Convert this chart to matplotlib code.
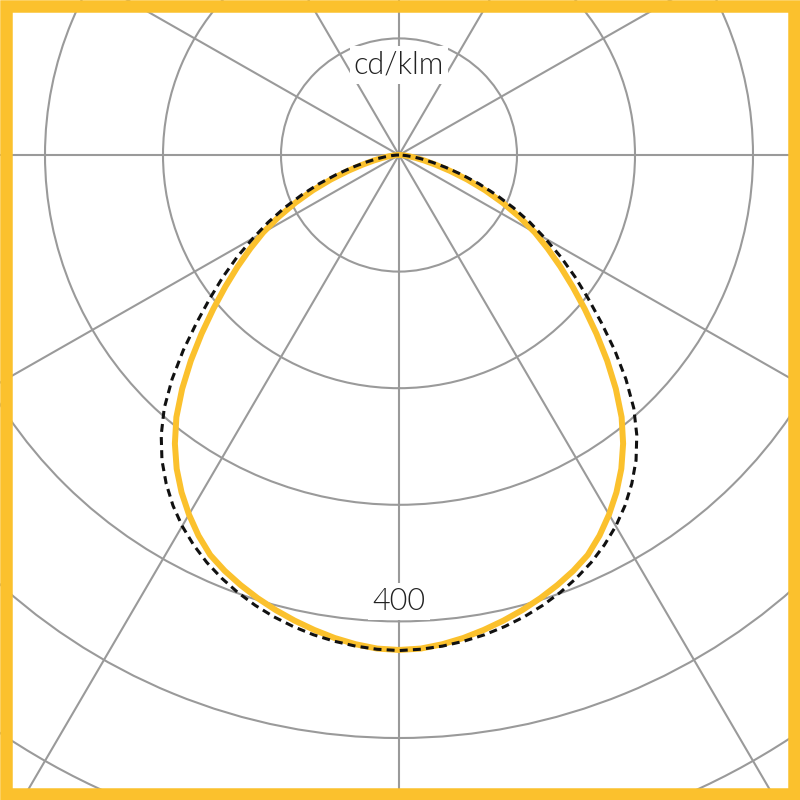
"""
Courbe photométrique polaire (cd/klm)
"""

import numpy as np
import matplotlib
matplotlib.use("Agg")
import matplotlib.pyplot as plt
from matplotlib.patches import Rectangle

# Angles gamma (degrés, 0 = vers le bas), pas de 2,5°
gamma = [0, 2.5, 5, 7.5, 10, 12.5, 15, 17.5, 20, 22.5, 25, 27.5, 30, 32.5, 35, 37.5,
         40, 42.5, 45, 47.5, 50, 52.5, 55, 57.5, 60, 62.5, 65, 67.5, 70, 72.5, 75,
         77.5, 80, 82.5, 85, 87.5, 90]

# Plan C0-C180 (trait jaune)
plan_c0_c180 = [424.5, 423.7, 421.2, 417.8, 413.6, 409.0, 404.0, 398.5, 392.5, 386.0,
                378.5, 368.0, 356.0, 343.0, 328.5, 312.0, 293.5, 272.0, 249.5, 227.0,
                205.5, 185.5, 167.0, 149.5, 133.0, 115.0, 97.0, 79.0, 61.5, 45.5,
                32.0, 22.0, 14.5, 9.0, 5.0, 2.0, 0.0]

# Plan C90-C270 (pointillés noirs)
plan_c90_c270 = [425.0, 424.3, 422.8, 420.6, 417.8, 414.2, 410.0, 405.0, 399.3, 392.8,
                 385.5, 377.0, 367.5, 356.5, 344.0, 330.0, 313.5, 294.5, 272.0, 248.0,
                 224.0, 202.0, 182.0, 162.5, 143.0, 125.0, 107.0, 89.0, 72.0, 55.5,
                 41.0, 29.0, 19.5, 12.0, 6.5, 2.5, 0.0]

# Cercles et rayons de la grille
cercles = [100, 200, 300, 400, 500, 600, 700]
rayons = [0, 30, 60, 90, 120, 150, 180, 210, 240, 270, 300, 330]

JAUNE = "#fbc12d"
GRIS = "#9a9a9a"
TEXTE = "#222222"
POLICE = ["Lato", "Liberation Sans", "DejaVu Sans"]


def courbe_complete(valeurs):
    """Miroir de la demi-courbe pour obtenir les deux côtés"""
    g = np.array(gamma, dtype=float)
    v = np.array(valeurs, dtype=float)
    theta = np.concatenate([-g[::-1], g[1:]])
    r = np.concatenate([v[::-1], v[1:]])
    return np.radians(theta), r


def main():
    fig = plt.figure(figsize=(8, 8), dpi=100)
    fig.patch.set_facecolor("white")

    # Centre du diagramme et échelle (pixels par cd/klm, légèrement écrasée en hauteur)
    cx, cy = 399 / 800, 1 - 155 / 800
    px_x, px_y = 1.18, 1.166
    rmax = 700
    demi_l = rmax * px_x / 800
    demi_h = rmax * px_y / 800
    ax = fig.add_axes([cx - demi_l, cy - demi_h, 2 * demi_l, 2 * demi_h], projection="polar")
    ax.set_aspect("auto")

    ax.set_theta_zero_location("S")
    ax.set_ylim(0, rmax)
    ax.set_rgrids(cercles, labels=[""] * len(cercles))
    ax.set_thetagrids(rayons, labels=[""] * len(rayons))
    ax.grid(True, color=GRIS, linewidth=1.5)
    ax.spines["polar"].set_visible(False)
    ax.tick_params(length=0)
    ax.set_facecolor("white")

    th, r = courbe_complete(plan_c0_c180)
    ax.plot(th, r, color=JAUNE, linewidth=4.3, solid_capstyle="round",
            solid_joinstyle="round", zorder=3)

    th, r = courbe_complete(plan_c90_c270)
    ax.plot(th, r, color="#111111", linewidth=2.2, dashes=(2.6, 1.7), zorder=4)

    boite = dict(facecolor="white", edgecolor="none", pad=3)
    ax.text(np.pi, 77, "cd/klm", ha="center", va="center", fontsize=22, fontweight=300,
            family=POLICE, color=TEXTE, bbox=boite, zorder=5)
    ax.text(0, 383, "400", ha="center", va="center", fontsize=22, fontweight=300,
            family=POLICE, color=TEXTE, bbox=boite, zorder=5)

    # Cadre jaune
    bord = 12.5 / 800
    cadre = Rectangle((bord / 2, bord / 2), 1 - bord, 1 - bord, transform=fig.transFigure,
                      fill=False, edgecolor=JAUNE, linewidth=12.5 * 0.72, zorder=10)
    fig.add_artist(cadre)

    fig.savefig("out.png", dpi=100, facecolor="white")
    plt.close(fig)


if __name__ == "__main__":
    main()
